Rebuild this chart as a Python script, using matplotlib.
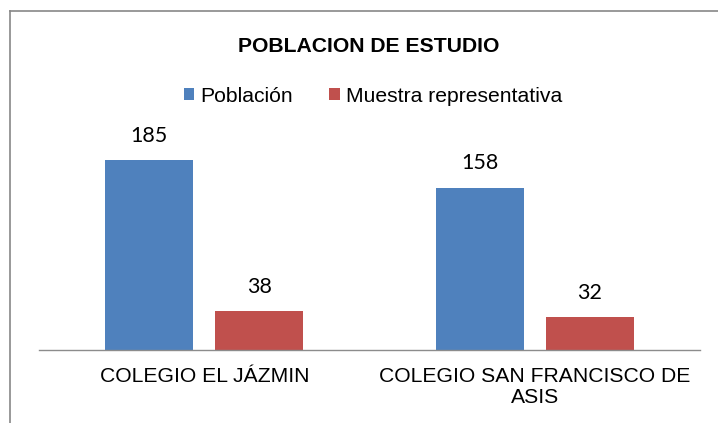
import matplotlib
matplotlib.use("Agg")
import matplotlib.pyplot as plt
from matplotlib.lines import Line2D
from matplotlib.transforms import ScaledTranslation
import numpy as np

categorias = ["COLEGIO EL JÁZMIN", "COLEGIO SAN FRANCISCO DE\nASIS"]
poblacion = [185, 158]
muestra = [38, 32]
series = ["Población", "Muestra representativa"]
colores = ["#4F81BD", "#C0504D"]

plt.rcParams["font.family"] = ["Liberation Sans", "DejaVu Sans"]

fig = plt.figure(figsize=(7.18, 4.23), dpi=100)
ax = fig.add_axes([39 / 718, 73 / 423, 661 / 718, 205.4 / 423])

x = np.arange(len(categorias))
w = 0.266
off = 0.1664
b1 = ax.bar(x - off, poblacion, w, color=colores[0], label=series[0])
b2 = ax.bar(x + off, muestra, w, color=colores[1], label=series[1])

for bars, vals in [(b1, poblacion), (b2, muestra)]:
    for r, v in zip(bars, vals):
        ax.annotate(str(v), (r.get_x() + r.get_width() / 2, v),
                    xytext=(0, 13.3), textcoords="offset points",
                    ha="center", va="baseline", fontsize=15.5,
                    family=["Lato", "DejaVu Sans"])

ax.set_xlim(-0.5, 1.5)
ax.set_ylim(0, 200)
ax.set_yticks([])
for s in ["top", "right", "left"]:
    ax.spines[s].set_visible(False)
ax.spines["bottom"].set_color("#8c8c8c")
ax.spines["bottom"].set_linewidth(1.0)
ax.set_xticks(x)
ax.set_xticklabels([])
ax.tick_params(axis="x", length=0)

# category labels: baseline of last line 32 px + 21 px per extra line below axis
for xi, cat in zip(x, categorias):
    n = cat.count("\n")
    dy = -(32 + 21 * n) / 100
    t = ax.get_xaxis_transform() + ScaledTranslation(0, dy, fig.dpi_scale_trans)
    ax.text(xi, 0, cat, transform=t, ha="center", va="baseline",
            fontsize=15.2, linespacing=1.15, multialignment="center")

fig.text(369 / 718, (423 - 52.3) / 423, "POBLACION DE ESTUDIO",
         ha="center", va="baseline", fontsize=15.2, fontweight="bold")

fig.legend(handles=[b1, b2], loc="center", bbox_to_anchor=(373 / 718, 1 - 96 / 423),
           ncol=2, frameon=False, fontsize=15.2, handlelength=0.5, handleheight=0.5,
           handletextpad=0.3, columnspacing=1.7, borderpad=0, borderaxespad=0)

# chart border (cut at right/bottom as in the original)
fig.add_artist(Line2D([9.5 / 718, 9.5 / 718], [0, 1 - 11.5 / 423],
                      transform=fig.transFigure, color="#878787", lw=1.2))
fig.add_artist(Line2D([9.5 / 718, 1], [1 - 11.5 / 423, 1 - 11.5 / 423],
                      transform=fig.transFigure, color="#878787", lw=1.2))

fig.savefig("out.png", dpi=100)
